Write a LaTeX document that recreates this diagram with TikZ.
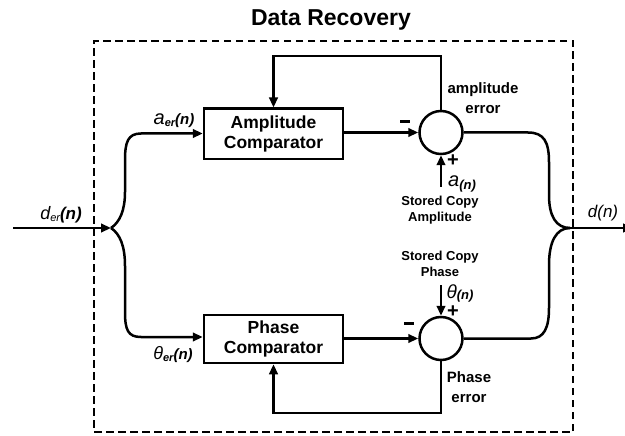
\documentclass[tikz,border=0pt]{standalone}
\usepackage{fontspec}
\setmainfont{Liberation Sans}
\usetikzlibrary{arrows.meta,calc}
\begin{document}
\begin{tikzpicture}[x=1pt,y=-1pt,
  line/.style={line width=2.5pt},
  arr/.style={line width=2.5pt,-{Triangle[length=10pt,width=8.5pt]}},
  blk/.style={draw,line width=2.5pt,minimum width=139pt,align=center,
    font=\fontsize{17.5}{20.5}\selectfont\bfseries,inner sep=0pt},
  sum/.style={draw,circle,line width=2.5pt,minimum size=43pt,inner sep=0pt},
  lbl/.style={align=center,font=\fontsize{15}{20}\selectfont\bfseries,inner sep=0pt},
  small/.style={align=center,font=\fontsize{13}{16}\selectfont\bfseries,inner sep=0pt},
  sgn/.style={font=\fontsize{20}{20}\selectfont\bfseries,inner sep=0pt},
  mth/.style={inner sep=0pt,anchor=center},
  frame/.style={draw,line width=1.5pt,dash pattern=on 7.5pt off 4.5pt}
]
\useasboundingbox (0,0) rectangle (625,436);

% title and frame
\node[font=\fontsize{23}{23}\selectfont\bfseries,inner sep=0pt] (title) at (331,20) {Data Recovery};
\node[frame,minimum width=479pt,minimum height=391pt,inner sep=0pt] (frm) at (333.5,236.5) {};

% blocks
\node[blk,minimum height=50.5pt] (amp) at (273.5,134) {Amplitude\\Comparator};
\node[blk,minimum height=48pt] (ph) at (273.5,339) {Phase\\Comparator};
\node[sum] (c1) at (441,132.5) {};
\node[sum] (c2) at (441,338.5) {};

% coordinates
\coordinate (din) at (13,228);
\coordinate (br) at (111,228);
\coordinate (out) at (570,228);
\coordinate (dend) at (633,228);
\coordinate (fbtop) at (0,56);
\coordinate (fbbot) at (0,413);
\coordinate (ain) at (441,187);
\coordinate (thin) at (441,285);

% input and branches
\draw[arr] (din) -- (br);
\draw[arr] (br) .. controls (120,222) and (125,210) .. (125,192) -- (125,160)
  .. controls (125,142) and (128,133.5) .. (141,133.5) -- (amp.west |- 0,133.5);
\draw[arr] (br) .. controls (120,234) and (125,246) .. (125,266) -- (125,312)
  .. controls (125,330) and (128,337) .. (141,337) -- (ph.west |- 0,337);

% comparator to summing circles
\draw[arr] (amp.east |- c1.west) -- (c1.west);
\draw[arr] (ph.east |- c2.west) -- (c2.west);

% feedback loops
\draw[arr] (c1.north) |- (amp.north |- fbtop) -- (amp.north);
\draw[arr] (c2.south) |- (ph.south |- fbbot) -- (ph.south);

% stored copies
\draw[arr] (ain) -- (c1.south);
\draw[arr] (thin) -- (c2.north);

% outputs
\draw[line] (c1.east) -- (528,132.5) .. controls (544,132.5) and (549,142) .. (549,162)
  -- (549,195) .. controls (549,216) and (556,228) .. (out);
\draw[line] (c2.east) -- (531,338.5) .. controls (544,338.5) and (549,328) .. (549,308)
  -- (549,265) .. controls (549,242) and (556,228) .. (out);
\draw[arr] (out) -- (dend);

% signs
\node[sgn] (m1) at (405,121) {\rule{10pt}{3pt}};
\node[sgn] (p1) at (453,160.5) {+};
\node[sgn] (m2) at (409,323) {\rule{10pt}{3pt}};
\node[sgn] (p2) at (453,312) {+};

% labels
\node[lbl] (aerr) at (483,98) {amplitude\\error};
\node[lbl] (perr) at (469,387) {Phase\\error};
\node[small] (sca) at (440,210) {Stored Copy\\Amplitude};
\node[small] (scp) at (440,264) {Stored Copy\\Phase};

% math labels
\node[mth] (laer) at (174,121) {{\fontsize{20}{20}\selectfont\itshape a}\raisebox{-1.5pt}{\fontsize{11}{11}\selectfont\bfseries\itshape er}{\fontsize{15}{15}\selectfont\bfseries\itshape (n)}};
\node[mth] (lder) at (61,215) {{\fontsize{18}{18}\selectfont\itshape d}\raisebox{-1.5pt}{\fontsize{11}{11}\selectfont\itshape er}{\fontsize{17}{17}\selectfont\bfseries\itshape (n)}};
\node[mth] (lther) at (173,355) {{\fontsize{18}{18}\selectfont\itshape θ}\raisebox{-1.5pt}{\fontsize{11}{11}\selectfont\bfseries\itshape er}{\fontsize{15}{15}\selectfont\bfseries\itshape (n)}};
\node[mth] (lan) at (462,183.5) {{\fontsize{20}{20}\selectfont\itshape a}\raisebox{-3pt}{\fontsize{13}{13}\selectfont\bfseries\itshape (n)}};
\node[mth] (lthn) at (460,293) {{\fontsize{19}{19}\selectfont\itshape θ}\raisebox{-1pt}{\fontsize{13}{13}\selectfont\bfseries\itshape (n)}};
\node[mth] (ldn) at (603,213) {\fontsize{17}{17}\selectfont\itshape d(n)};
\end{tikzpicture}
\end{document}
